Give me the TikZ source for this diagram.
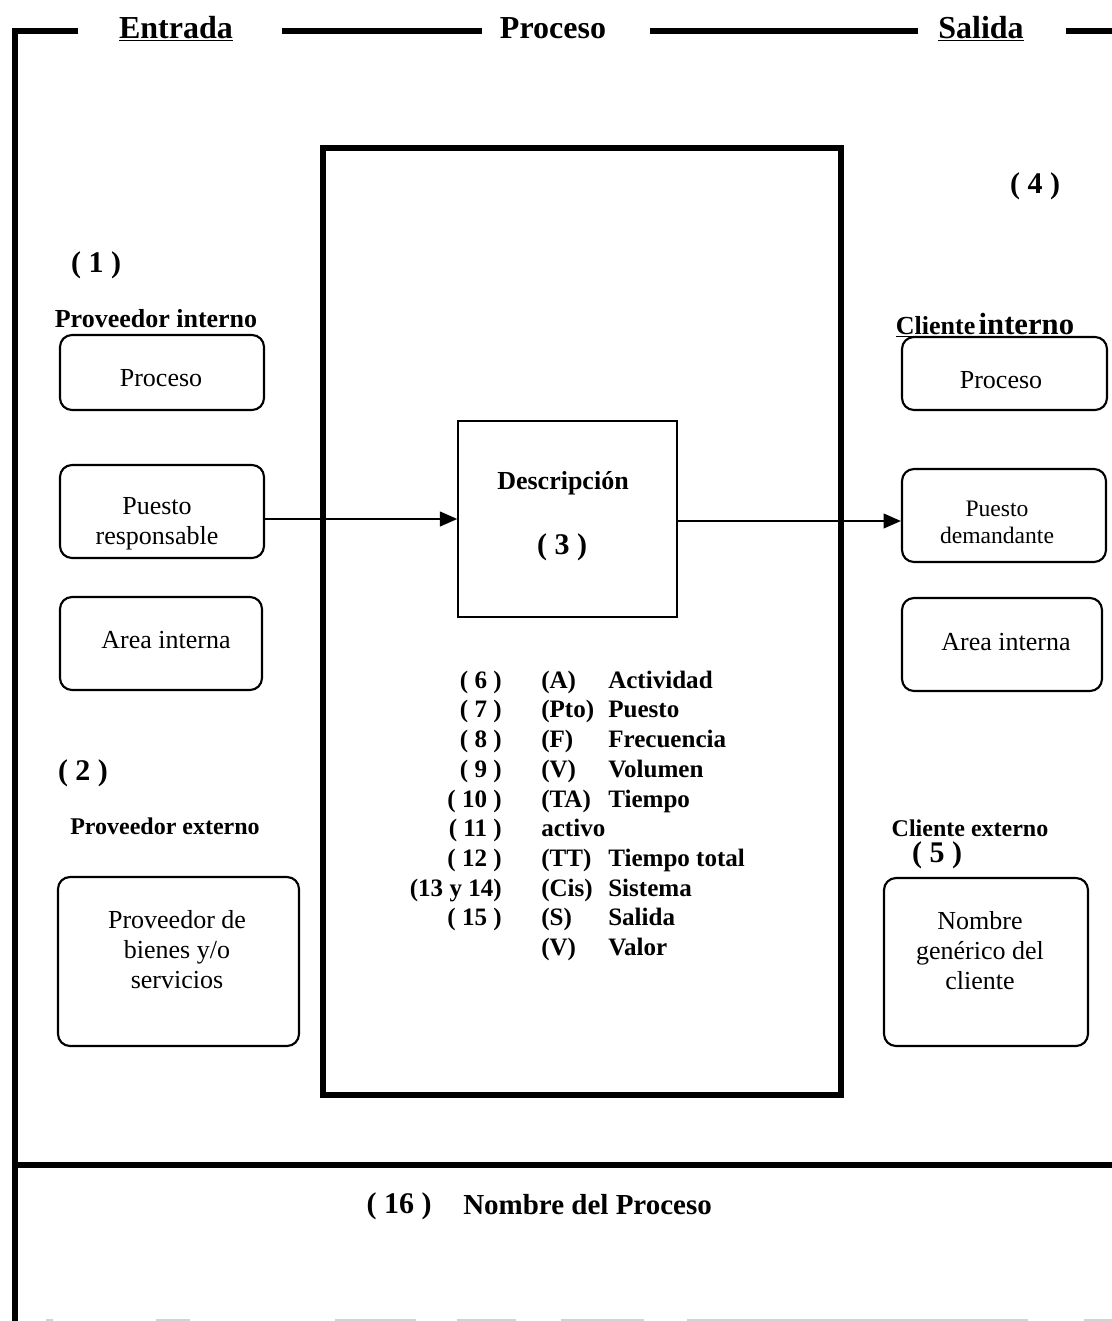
\documentclass[tikz,border=0pt]{standalone}
\usepackage{fontspec}
\setmainfont{Liberation Serif}
\usetikzlibrary{arrows.meta}

\begin{document}
\begin{tikzpicture}[x=0.75pt,y=-0.75pt,
  frame/.style={line width=4.4pt},
  rbox/.style={draw, line width=1.6pt, rounded corners=9pt, inner sep=0pt},
  boxtxt/.style={align=center, inner sep=0pt, font=\fontsize{19.5pt}{22.5pt}\selectfont},
  smalltxt/.style={align=center, inner sep=0pt, font=\fontsize{17.7pt}{20.3pt}\selectfont},
  head/.style={inner sep=0pt, font=\bfseries\fontsize{24pt}{28pt}\selectfont},
  tag/.style={inner sep=0pt, font=\bfseries\fontsize{22.5pt}{26pt}\selectfont},
  sub/.style={inner sep=0pt, font=\bfseries\fontsize{19.5pt}{22pt}\selectfont},
  subsm/.style={inner sep=0pt, font=\bfseries\fontsize{18pt}{22pt}\selectfont},
  legend/.style={inner sep=0pt, font=\bfseries\fontsize{18.8pt}{22.3pt}\selectfont},
  flow/.style={line width=1.5pt, -{Triangle[length=13pt,width=11pt]}}
]
\useasboundingbox (0,0) rectangle (1112,1321);

% outer frame: top band, left side, footer divider
\draw[frame] (78,31) -- (15,31) -- (15,1325);
\draw[frame] (282,31) -- (482,31);
\draw[frame] (650,31) -- (918,31);
\draw[frame] (1066,31) -- (1114,31);
\draw[line width=4.6pt] (13,1165) -- (1114,1165);
\draw[gray!35, line width=1pt] (46,1320) -- (53,1320) (156,1320) -- (190,1320)
  (335,1320) -- (416,1320) (457,1320) -- (516,1320) (561,1320) -- (644,1320)
  (687,1320) -- (1028,1320) (1084,1320) -- (1112,1320);

% column headings
\node[head, anchor=base] (hin) at (176,38) {\underline{Entrada}};
\node[head, anchor=base] (hproc) at (553,38) {Proceso};
\node[head, anchor=base] (hout) at (981,38) {\underline{Salida}};

% process block
\node[draw, line width=4.6pt, minimum width=518*0.75pt, minimum height=947*0.75pt, inner sep=0pt] (proc) at (582,621.5) {};
\node[draw, line width=1.1pt, minimum width=219*0.75pt, minimum height=196*0.75pt, inner sep=0pt] (desc) at (567.5,519) {};
\node[inner sep=0pt, font=\bfseries\fontsize{19.5pt}{22pt}\selectfont] (desct) at (563,483) {Descripción};
\node[tag] (n3) at (562,547) {( 3 )};

% legend inside the process block
\node[legend, anchor=north east] (nums) at (502,667) {%
  \begin{tabular}{@{}r@{}}
  ( 6 )\\ ( 7 )\\ ( 8 )\\ ( 9 )\\ ( 10 )\\ ( 11 )\\ ( 12 )\\ (13 y 14)\\ ( 15 )
  \end{tabular}};
\node[legend, anchor=north west] (defs) at (541,667) {%
  \begin{tabular}{@{}p{50.25pt}@{}l@{}}
  (A) & Actividad\\
  (Pto) & Puesto\\
  (F) & Frecuencia\\
  (V) & Volumen\\
  (TA) & Tiempo\\
  \multicolumn{2}{@{}l@{}}{activo}\\
  (TT) & Tiempo total\\
  (Cis) & Sistema\\
  (S) & Salida\\
  (V) & Valor
  \end{tabular}};

% suppliers
\node[tag] (n1) at (96,265) {( 1 )};
\node[sub] (pint) at (156,319) {Proveedor interno};
\node[rbox, minimum width=204*0.75pt, minimum height=75*0.75pt] (lproc) at (162,372.5) {};
\node[boxtxt] at (161,378) {Proceso};
\node[rbox, minimum width=204*0.75pt, minimum height=93*0.75pt] (lpuesto) at (162,511.5) {};
\node[boxtxt] at (157,524) {Puesto\\responsable};
\node[rbox, minimum width=202*0.75pt, minimum height=93*0.75pt] (larea) at (161,643.5) {};
\node[boxtxt] at (166,640) {Area interna};

\node[tag] (n2) at (83,773) {( 2 )};
\node[subsm] (pext) at (165,826) {Proveedor externo};
\node[rbox, minimum width=241*0.75pt, minimum height=169*0.75pt] (lext) at (178.5,961.5) {};
\node[boxtxt] at (177,950) {Proveedor de\\bienes y/o\\servicios};

% clients
\node[tag] (n4) at (1035,186) {( 4 )};
\node[inner sep=0pt, anchor=base, font=\bfseries] (cint) at (985,334)
  {\underline{{\fontsize{19.5pt}{22pt}\selectfont Cliente} {\fontsize{23pt}{26pt}\selectfont interno}}};
\node[rbox, minimum width=205*0.75pt, minimum height=73*0.75pt] (rproc) at (1004.5,373.5) {};
\node[boxtxt] at (1001,380) {Proceso};
\node[rbox, minimum width=204*0.75pt, minimum height=93*0.75pt] (rpuesto) at (1004,515.5) {};
\node[smalltxt] at (997,522) {Puesto\\demandante};
\node[rbox, minimum width=200*0.75pt, minimum height=93*0.75pt] (rarea) at (1002,644.5) {};
\node[boxtxt] at (1006,642) {Area interna};

\node[subsm] (cext) at (970,828) {Cliente externo};
\node[tag] (n5) at (937,855) {( 5 )};
\node[rbox, minimum width=204*0.75pt, minimum height=168*0.75pt] (rext) at (986,962) {};
\node[boxtxt] at (980,951) {Nombre\\genérico del\\cliente};

% flow through the process
\draw[flow] (lpuesto.east |- desc.west) -- (desc.west);
\draw[flow] ([yshift=-1.5pt]desc.east) -- ([yshift=-1.5pt]rpuesto.west |- desc.east);

% footer
\node[tag] (n16) at (399,1206) {( 16 )};
\node[anchor=west, inner sep=0pt, font=\bfseries\fontsize{21.75pt}{26pt}\selectfont] (pname) at (463,1205) {Nombre del Proceso};
\end{tikzpicture}
\end{document}
